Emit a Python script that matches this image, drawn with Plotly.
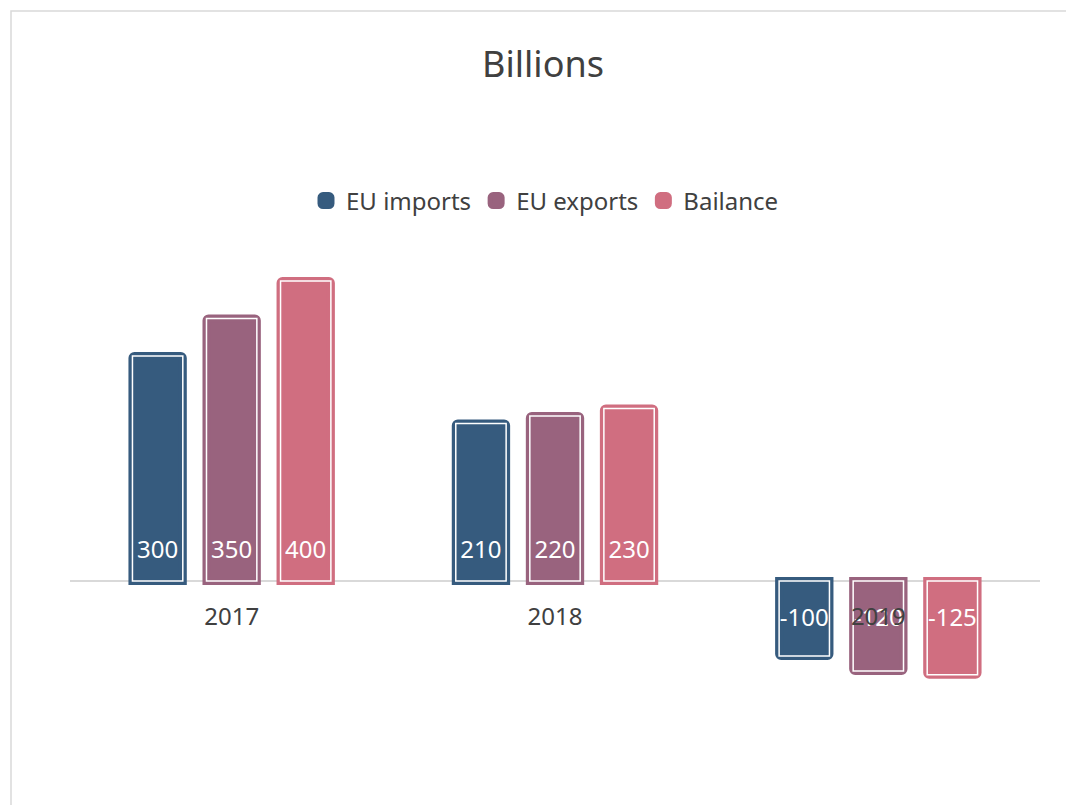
import plotly.graph_objects as go

# Trade figures (billions)
years = ["2017", "2018", "2019"]
eu_imports = [300, 210, -100]
eu_exports = [350, 220, -120]
bailance = [400, 230, -125]

series_names = ["EU imports", "EU exports", "Bailance"]
series_values = [eu_imports, eu_exports, bailance]
series_colors = ["#365b7e", "#99637e", "#d06e80"]

W, H = 1066, 805
ML, MR, MT, MB = 70, 26, 250, 45
Y_RANGE = [-238.67, 441.33]
LABEL_SIZE = 24
SPACER = "\u00a0"


def bar_label(v):
    # number sits a little away from the zero line: a spacer line
    # goes between the number and the bar's base
    num = f"<span style='font-size:{LABEL_SIZE}px'>{v}</span>"
    if v >= 0:
        return f"{num}<br>{SPACER}"
    return f"<span style='font-size:{LABEL_SIZE}px'>{SPACER}</span><br>{num}"


fig = go.Figure()

# Coloured body of each bar (thick stroke in the same colour gives the outer rim)
for name, vals, col in zip(series_names, series_values, series_colors):
    fig.add_trace(go.Bar(
        x=years, y=vals, name=name,
        marker=dict(color=col, line=dict(color=col, width=8), cornerradius=2),
        hoverinfo="skip",
        xaxis="x", yaxis="y",
    ))

# Thin white inner outline and the value labels, on an overlaid axis
for name, vals, col in zip(series_names, series_values, series_colors):
    fig.add_trace(go.Bar(
        x=years, y=vals, name=name, showlegend=False,
        marker=dict(color="rgba(0,0,0,0)", line=dict(color="white", width=1.5)),
        text=[bar_label(v) for v in vals],
        textposition="inside",
        insidetextanchor="start",
        textangle=0,
        constraintext="none",
        textfont=dict(color="white", size=12, family="Noto Sans"),
        hoverinfo="skip",
        xaxis="x", yaxis="y2",
    ))

# Light grey frame around the chart
def px_to_paper_x(px):
    return (px - ML) / (W - ML - MR)


def px_to_paper_y(py):
    return (H - MB - py) / (H - MT - MB)


fig.add_shape(
    type="rect", xref="paper", yref="paper",
    x0=px_to_paper_x(11), x1=px_to_paper_x(1075),
    y0=px_to_paper_y(815), y1=px_to_paper_y(11),
    line=dict(color="#d9d9d9", width=1.5), fillcolor="rgba(0,0,0,0)",
    layer="below",
)

zero_pos = px_to_paper_y(581)

fig.update_layout(
    width=W, height=H,
    margin=dict(l=ML, r=MR, t=MT, b=MB),
    paper_bgcolor="white", plot_bgcolor="white",
    barmode="group", bargap=0.313, bargroupgap=0.32,
    font=dict(family="Noto Sans", color="#404040"),
    title=dict(
        text="Billions", font=dict(size=36, color="#404040", family="Noto Sans"),
        x=543 / W, xref="container", xanchor="center",
        y=1 - 64 / H, yref="container", yanchor="middle",
    ),
    legend=dict(
        orientation="h", x=545 / W, xref="container", xanchor="center",
        y=1 - 201 / H, yref="container", yanchor="middle",
        font=dict(size=24, color="#404040"),
        tracegroupgap=0,
    ),
    xaxis=dict(
        type="category", range=[-0.5, 2.5],
        anchor="free", position=zero_pos,
        showline=False, showgrid=False, zeroline=False,
        ticks="", ticklabelstandoff=19,
        tickfont=dict(size=24, color="#404040"),
        layer="above traces",
    ),
    yaxis=dict(
        range=Y_RANGE, showgrid=False, showticklabels=False,
        zeroline=True, zerolinecolor="#d9d9d9", zerolinewidth=1.5,
        showline=False, ticks="",
    ),
    yaxis2=dict(
        range=Y_RANGE, overlaying="y", showgrid=False, showticklabels=False,
        zeroline=False, showline=False, ticks="",
    ),
)

fig.write_html("out.html")
